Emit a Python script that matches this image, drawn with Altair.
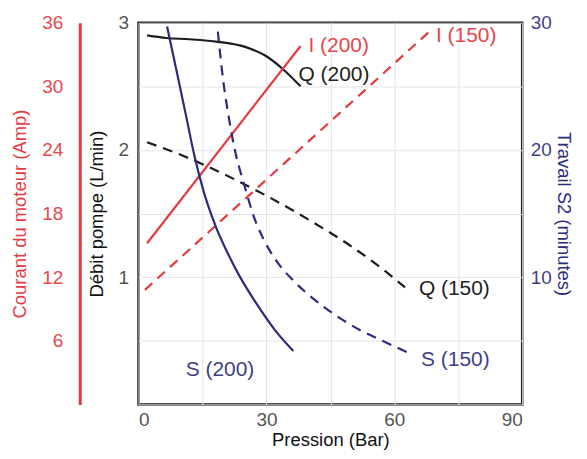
import altair as alt
import pandas as pd

# ---- data ----
# Débit pompe Q (L/min) vs pression (bar)
q200_p = [2, 6.5, 12, 18.6, 25, 29.8, 33.7, 38]
q200_v = [2.90, 2.88, 2.87, 2.85, 2.81, 2.74, 2.64, 2.50]
q150_p = [2, 10, 20, 30, 40, 50, 57, 62.5]
q150_v = [2.06, 1.96, 1.81, 1.64, 1.45, 1.24, 1.07, 0.92]
# Courant du moteur I (A)
i200_p = [2, 38]
i200_v = [15.2, 33.8]
i150_p = [1.5, 68.6]
i150_v = [10.8, 35.3]
# Travail S2 (minutes)
s200_p = [6.7, 8.8, 11.2, 13.0, 15.3, 18.1, 20.9, 23.5, 27.9, 32.1, 36.3]
s200_v = [29.7, 26.4, 22.6, 19.7, 16.7, 14.0, 11.9, 10.2, 7.8, 5.8, 4.2]
s150_p = [18.6, 20.0, 21.2, 22.1, 25.1, 27.0, 29.3, 32.1, 36.7, 41.4, 46.7, 51.9, 57.2, 63.0]
s150_v = [29.3, 25.1, 22.5, 20.8, 16.9, 14.8, 13.0, 11.4, 9.6, 8.2, 6.9, 5.85, 5.0, 4.1]

x_ticks = [0, 15, 30, 45, 60, 75, 90]
q_ticks = [0, 0.5, 1, 1.5, 2, 2.5, 3]
i_ticks = [6, 12, 18, 24, 30, 36]
s_ticks = [10, 20, 30]

RED = "#e6393f"
RED_T = "#e5484d"
BLUE = "#2c2c7c"
BLUE_T = "#3f3f88"
BLACK = "#1c1c1c"
FONT = "Liberation Sans"

x_enc = alt.X(
    "P:Q",
    scale=alt.Scale(domain=[0, 90], nice=False, zero=False),
    axis=alt.Axis(
        values=x_ticks,
        labelExpr="datum.value % 30 == 0 ? datum.label : ''",
        grid=True, gridColor="#e3e3e3", gridWidth=1,
        ticks=False, domain=False,
        labelPadding=6, labelFontSize=19, labelColor="#555", labelFont=FONT,
        title="Pression (Bar)", titleFontSize=18.5, titleColor="#111",
        titleFont=FONT, titleFontWeight="normal",
        titlePadding=1,
    ),
)

q_y = alt.Y(
    "v:Q",
    scale=alt.Scale(domain=[0, 3], nice=False, zero=False),
    axis=alt.Axis(
        orient="left", values=q_ticks,
        labelExpr="datum.value % 1 == 0 && datum.value > 0 ? toString(datum.value) : ''",
        grid=True, gridColor="#e3e3e3", gridWidth=1,
        ticks=False, domain=False,
        labelPadding=10, labelFontSize=19, labelColor="#555", labelFont=FONT,
        title="Débit pompe (L/min)", titleFontSize=18.5, titleColor="#111",
        titleFont=FONT, titleFontWeight="normal",
        titlePadding=12,
    ),
)
i_y = alt.Y(
    "v:Q",
    scale=alt.Scale(domain=[0, 36], nice=False, zero=False),
    axis=alt.Axis(
        orient="left", offset=59, values=i_ticks,
        grid=False, ticks=False,
        domain=True, domainColor=RED, domainWidth=3,
        labelPadding=17, labelFontSize=19, labelColor=RED_T, labelFont=FONT,
        title="Courant du moteur (Amp)", titleFontSize=18.5, titleColor=RED,
        titleFont=FONT, titleFontWeight="normal",
        titlePadding=12,
    ),
)
s_y = alt.Y(
    "v:Q",
    scale=alt.Scale(domain=[0, 30], nice=False, zero=False),
    axis=alt.Axis(
        orient="right", values=s_ticks,
        grid=False, ticks=False, domain=False,
        labelPadding=8, labelFontSize=19, labelColor=BLUE_T, labelFont=FONT,
        title="Travail S2 (minutes)", titleFontSize=18.5, titleColor=BLUE,
        titleFont=FONT, titleFontWeight="normal",
        titlePadding=2,
    ),
)


def series(ps, vs, y_enc, color, dash, label, tcolor, dx, dy):
    df = pd.DataFrame({"P": ps, "v": vs})
    mk = dict(color=color, strokeWidth=2.2, interpolate="monotone")
    if dash:
        mk["strokeDash"] = dash
    line = alt.Chart(df).mark_line(**mk).encode(x=x_enc, y=y_enc)
    last = df.tail(1).assign(t=label)
    txt = alt.Chart(last).mark_text(
        align="left", baseline="middle", dx=dx, dy=dy,
        font=FONT, fontSize=21, color=tcolor,
    ).encode(x=x_enc, y=y_enc, text="t:N")
    return [line, txt]


DASH = [10, 7]
q_group = alt.layer(
    *series(q200_p, q200_v, q_y, BLACK, None, "Q (200)", "#222", -2, -11),
    *series(q150_p, q150_v, q_y, BLACK, DASH, "Q (150)", "#222", 14, 2),
)
i_group = alt.layer(
    *series(i200_p, i200_v, i_y, RED, None, "I (200)", RED_T, 8, 0),
    *series(i150_p, i150_v, i_y, RED, DASH, "I (150)", RED_T, 5, 6),
)
s_group = alt.layer(
    *series(s200_p, s200_v, s_y, BLUE, None, "S (200)", BLUE_T, -108, 19),
    *series(s150_p, s150_v, s_y, BLUE, DASH, "S (150)", BLUE_T, 14, 8),
)

chart = (
    alt.layer(q_group, i_group, s_group)
    .resolve_scale(y="independent")
    .properties(width=385, height=383, background="white",
                view=alt.ViewBackground(stroke="#1a1a1a", strokeWidth=2.5),
                padding={"left": 2, "top": 5, "right": 6, "bottom": 0})
    .configure_view(stroke="#1a1a1a", strokeWidth=2.5)
)

chart.save("out.html", embed_options={"renderer": "svg", "actions": False})
